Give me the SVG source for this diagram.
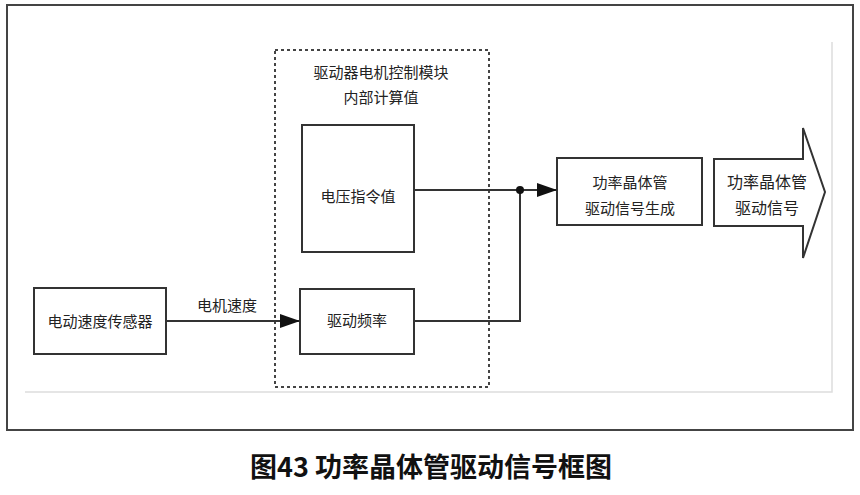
<svg xmlns="http://www.w3.org/2000/svg" width="860" height="495" viewBox="0 0 860 495">
<style>
text{font-family:"Noto Sans CJK SC","Liberation Sans",sans-serif;fill:#222;text-anchor:middle}
.t{font-size:15px}
.b{fill:#fff;stroke:#333;stroke-width:2}
.c{fill:none;stroke:#333;stroke-width:2}
</style>
<defs><marker id="ah2" markerWidth="20" markerHeight="14" refX="20" refY="7" orient="auto" markerUnits="userSpaceOnUse"><path d="M0,0L20,7L0,14z" fill="#111"/></marker></defs>
<rect x="7" y="5" width="846" height="425" fill="#fff" stroke="#444" stroke-width="2"/>
<path d="M832,42V392H25" fill="none" stroke="#ddd" stroke-width="1.5"/>
<g id="module"><rect x="275" y="50" width="214" height="337" fill="none" stroke="#444" stroke-width="2" stroke-dasharray="3,3"/>
<text class="t" x="381" y="78">驱动器电机控制模块</text><text class="t" x="381" y="103">内部计算值</text></g>
<g id="sensor"><rect class="b" x="34" y="288" width="132" height="66"/><text class="t" x="100" y="327">电动速度传感器</text></g>
<g id="voltage"><rect class="b" x="302" y="125" width="112" height="127"/><text class="t" x="358" y="202">电压指令值</text></g>
<g id="freq"><rect class="b" x="300" y="289" width="114" height="65"/><text class="t" x="357" y="326">驱动频率</text></g>
<g id="gen"><rect class="b" x="557" y="158" width="145" height="67"/><text class="t" x="630" y="188">功率晶体管</text><text class="t" x="630" y="214">驱动信号生成</text></g>
<g id="signal"><path class="b" d="M714,159H803V128L825,192L803,258V226H714Z"/><text class="t" x="767" y="188" style="font-size:16px">功率晶体管</text><text class="t" x="767" y="214" style="font-size:16px">驱动信号</text></g>
<g id="connectors">
<path class="c" d="M166,321H300" marker-end="url(#ah2)"/>
<text class="t" x="227" y="311">电机速度</text>
<path class="c" d="M414,190H557" marker-end="url(#ah2)"/>
<path class="c" d="M414,321H520V190"/>
<circle cx="520" cy="190" r="4" fill="#111"/>
</g>
<text x="431" y="477" style="font-size:27px;font-weight:bold;fill:#111">图43 功率晶体管驱动信号框图</text>
</svg>
